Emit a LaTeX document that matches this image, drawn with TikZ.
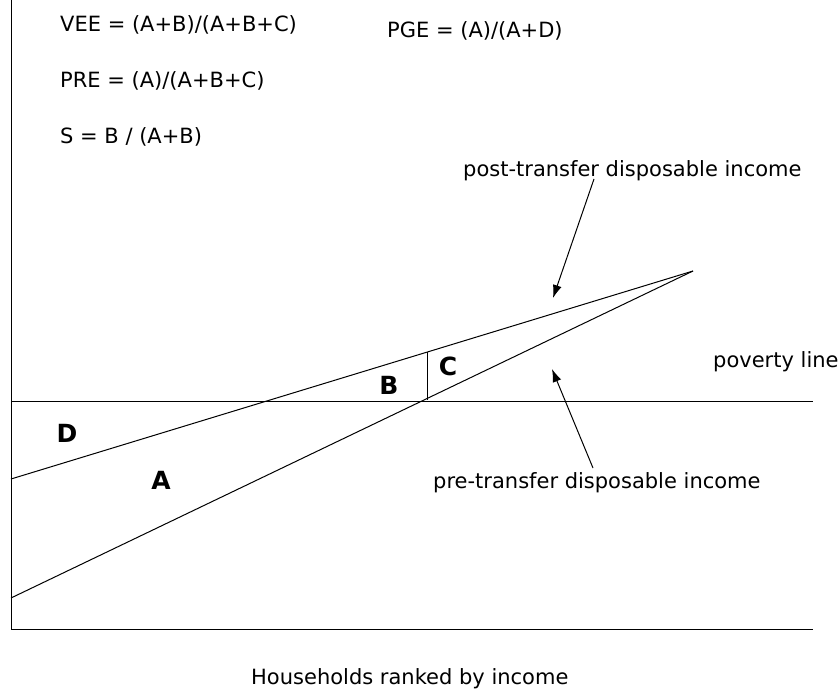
\documentclass[tikz,border=0pt]{standalone}
\usepackage{fontspec}
\setmainfont{DejaVu Sans}
\usetikzlibrary{arrows.meta}
\begin{document}
\begin{tikzpicture}[x=1pt,y=-1pt,
  txt/.style={anchor=base west,inner sep=0pt,font=\fontsize{21}{24}\selectfont},
  region/.style={inner sep=0pt,font=\fontsize{25}{30}\selectfont\bfseries},
  ln/.style={line width=1pt,black},
  pointer/.style={line width=1pt,-{Latex[length=13pt,width=9pt]}}]
\useasboundingbox (0,0) rectangle (839,690);
% axes
\coordinate (ytop) at (11,0);
\coordinate (orig) at (11,629);
\coordinate (xend) at (813,629);
\draw[ln] (ytop) -- (orig) -- (xend);
% poverty line
\coordinate (pl0) at (11,401);
\coordinate (pl1) at (813,401);
\draw[ln] (pl0) -- (pl1);
% income lines
\coordinate (post0) at (11,479);
\coordinate (pre0) at (11,598);
\coordinate (apex) at (693,271);
\coordinate (vtop) at (427,352);
\coordinate (vbot) at (427,400);
\draw[ln] (post0) -- (apex);
\draw[ln] (pre0) -- (apex);
\draw[ln] (vtop) -- (vbot);
% formulas
\node[txt] (vee) at (60,32) {VEE = (A+B)/(A+B+C)};
\node[txt] (pge) at (387,37.3) {PGE = (A)/(A+D)};
\node[txt] (pre) at (60,87.5) {PRE = (A)/(A+B+C)};
\node[txt] (s) at (60,144) {S = B / (A+B)};
% labels
\node[txt] (postlab) at (463,177) {post-transfer disposable income};
\node[txt] (povlab) at (713,367) {poverty line};
\node[txt] (prelab) at (433,488) {pre-transfer disposable income};
\node[txt] (hh) at (251,684.5) {Households ranked by income};
% regions
\node[region] (A) at (161,480) {A};
\node[region] (B) at (389,385) {B};
\node[region] (C) at (448,366) {C};
\node[region] (D) at (67,433) {D};
% pointers
\coordinate (posttail) at (594,179);
\coordinate (posttip) at (553,298);
\coordinate (pretail) at (593,468);
\coordinate (pretip) at (552,369);
\draw[pointer] (posttail) -- (posttip);
\draw[pointer] (pretail) -- (pretip);
\end{tikzpicture}
\end{document}
